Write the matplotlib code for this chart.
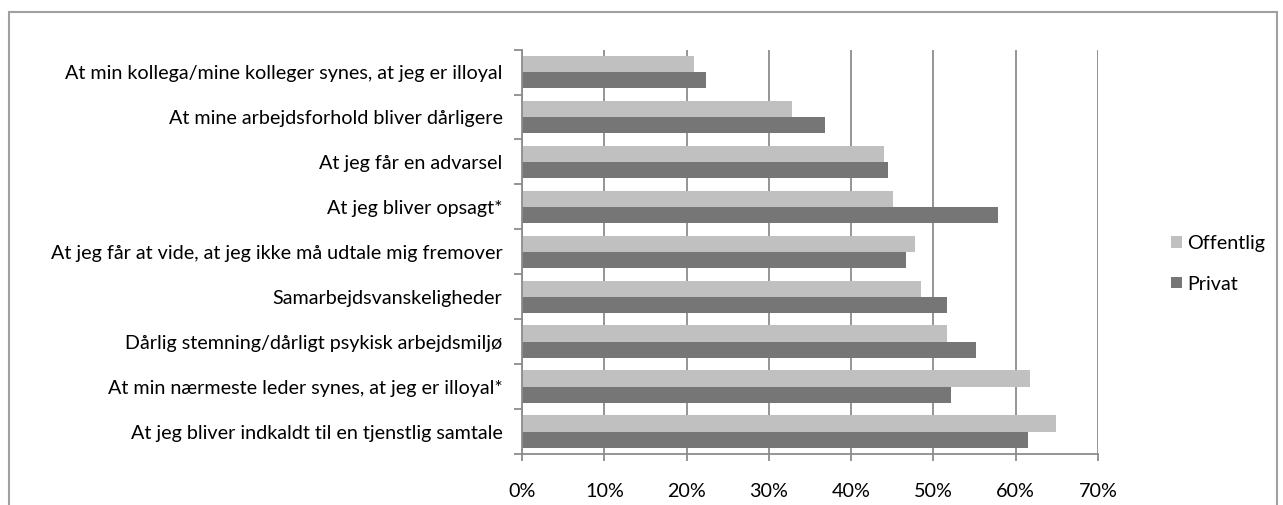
import matplotlib
matplotlib.use("Agg")
import matplotlib.pyplot as plt
import numpy as np
from matplotlib.ticker import FuncFormatter
from matplotlib.patches import Rectangle

categories = [
    "At min kollega/mine kolleger synes, at jeg er illoyal",
    "At mine arbejdsforhold bliver dårligere",
    "At jeg får en advarsel",
    "At jeg bliver opsagt*",
    "At jeg får at vide, at jeg ikke må udtale mig fremover",
    "Samarbejdsvanskeligheder",
    "Dårlig stemning/dårligt psykisk arbejdsmiljø",
    "At min nærmeste leder synes, at jeg er illoyal*",
    "At jeg bliver indkaldt til en tjenstlig samtale",
]
offentlig = [20.9, 32.8, 44.0, 45.1, 47.7, 48.5, 51.7, 61.7, 64.9]
privat = [22.4, 36.8, 44.5, 57.9, 46.7, 51.6, 55.2, 52.1, 61.5]
series_names = ["Offentlig", "Privat"]
xticks = [0, 10, 20, 30, 40, 50, 60, 70]

plt.rcParams['font.family'] = ['Lato', 'DejaVu Sans']
FS = 14.2
GRID = "#8c8c8c"
C_OFF = "#c0c0c0"
C_PRIV = "#767676"

fig = plt.figure(figsize=(12.83, 5.05), dpi=100)
fig.patches.append(Rectangle((9/1283, -0.05), (1277-9)/1283, 1.05 - 12/505,
                             transform=fig.transFigure, fill=False,
                             edgecolor="#a0a0a0", linewidth=1.5))
ax = fig.add_axes([522/1283, 1 - 454/505, (1098-522)/1283, (454-49.6)/505])

y = np.arange(len(categories))
h = 0.36
ax.barh(y - h/2, offentlig, height=h, color=C_OFF, label=series_names[0], zorder=3)
ax.barh(y + h/2, privat, height=h, color=C_PRIV, label=series_names[1], zorder=3)

ax.set_ylim(len(categories) - 0.5, -0.5)
ax.set_xlim(0, 70)
ax.set_xticks(xticks)
ax.xaxis.set_major_formatter(FuncFormatter(lambda v, p: f"{int(v)}%"))
ax.set_yticks(y)
ax.set_yticklabels(categories)
ax.set_yticks(np.arange(len(categories) + 1) - 0.5, minor=True)

ax.tick_params(axis='y', which='major', length=0, pad=14, labelsize=FS, colors="black")
ax.tick_params(axis='y', which='minor', length=6, width=1.3, color=GRID, direction='out')
ax.tick_params(axis='x', which='major', length=5, width=1.3, color=GRID, pad=16,
               labelsize=FS, labelcolor="black")

ax.grid(axis='x', color=GRID, linewidth=1.3, zorder=0)
for s in ['top', 'right']:
    ax.spines[s].set_visible(False)
for s in ['left', 'bottom']:
    ax.spines[s].set_color(GRID)
    ax.spines[s].set_linewidth(1.3)
    ax.spines[s].set_zorder(4)

leg = fig.legend(loc='upper left', bbox_to_anchor=(1161/1283, 1 - 225/505),
                 frameon=False, fontsize=FS, handlelength=0.55, handleheight=0.55,
                 handletextpad=0.3, labelspacing=1.2, borderpad=0)

fig.savefig("out.png", dpi=100)
